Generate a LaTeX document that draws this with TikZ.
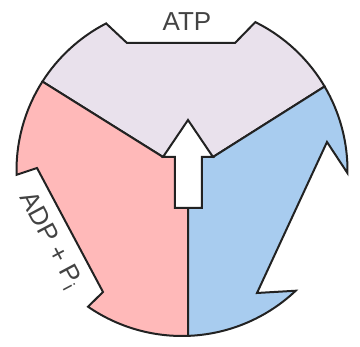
\documentclass[tikz,border=0pt]{standalone}
\usepackage{fontspec}
\setmainfont{Liberation Sans}
\usetikzlibrary{calc}
\definecolor{head}{HTML}{E9E1EC}
\definecolor{left}{HTML}{FFB9B9}
\definecolor{right}{HTML}{A8CCEF}
\definecolor{edge}{HTML}{222222}

\begin{document}
\begin{tikzpicture}[x=1pt, y=1pt,
    part/.style={draw=edge, line width=2pt, line join=miter, miter limit=4},
    label/.style={font=\fontsize{26}{26}\selectfont, text=edge!85}]
  \useasboundingbox (0,0) rectangle (360,347);
  \def\R{165.5pt}

  % Rim of the wheel and the points on it
  \coordinate (O) at (182,176.5);
  \coordinate (P1) at ($(O)+(147.5:165.5)$);
  \coordinate (T1) at ($(O)+(117.3:165.5)$);
  \coordinate (T2) at (127,304);
  \coordinate (T3) at (235,304);
  \coordinate (T4) at ($(O)+(63.7:165.5)$);
  \coordinate (P2) at ($(O)+(30.5:165.5)$);
  \coordinate (R1) at ($(O)+(-0.9:165.5)$);
  \coordinate (R2) at (327,205);
  \coordinate (R3) at (257,54);
  \coordinate (R4) at ($(O)+(-46.6:165.5)$);
  \coordinate (B)  at ($(O)+(-87.9:165.5)$);
  \coordinate (L4) at ($(O)+(235.4:165.5)$);
  \coordinate (L1) at ($(O)+(181.5:165.5)$);
  \coordinate (L2) at (37,179);
  \coordinate (L3) at (103,55);

  % Centre arrow
  \coordinate (C)   at (188,197);
  \coordinate (tip) at (188,227);
  \coordinate (WL)  at (163,190);
  \coordinate (WR)  at (213,190);
  \coordinate (SLt) at (175,190);
  \coordinate (SRt) at (202,190);
  \coordinate (SLb) at (175,139);
  \coordinate (SRb) at (202,139);

  % Top sector
  \draw[part, fill=head] (P1) arc[start angle=147.5, end angle=117.3, radius=\R]
    -- (T2) -- (T3) -- (T4) arc[start angle=63.7, end angle=30.5, radius=\R]
    -- (WR) -- (C) -- (WL) -- cycle;

  % Left sector
  \draw[part, fill=left] (P1) arc[start angle=147.5, end angle=181.5, radius=\R]
    -- (L2) -- (L3) -- (L4) arc[start angle=235.4, end angle=272.1, radius=\R]
    -- (C) -- (WL) -- cycle;

  % Right sector
  \draw[part, fill=right] (B) arc[start angle=-87.9, end angle=-46.6, radius=\R]
    -- (R3) -- (R2) -- (R1) arc[start angle=-0.9, end angle=30.5, radius=\R]
    -- (WR) -- (C) -- cycle;

  \draw[part, fill=white] (tip) -- (WR) -- (SRt) -- (SRb) -- (SLb) -- (SLt)
    -- (WL) -- cycle;

  % Labels
  \node[label] (atp) at (187,325) {ATP};
  \path (L2) -- (L3) node[label, midway, sloped, below=8pt] (adp)
    {ADP + P\textsubscript{i}};
\end{tikzpicture}
\end{document}
